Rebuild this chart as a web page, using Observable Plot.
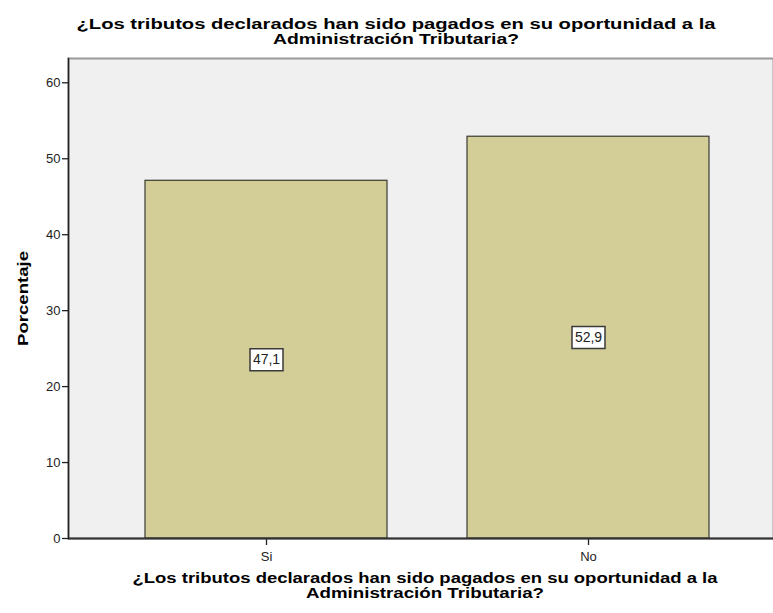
<!DOCTYPE html>
<html>
<head>
<meta charset="utf-8">
<script src="https://cdn.jsdelivr.net/npm/d3@7"></script>
<script src="https://cdn.jsdelivr.net/npm/@observablehq/plot@0.6"></script>
<style>
  html, body { margin: 0; padding: 0; background: #ffffff; }
  svg { display: block; }
</style>
</head>
<body>
<div id="chart"></div>
<script>
const categories = ["Si", "No"];
const percentages = [47.1, 52.9];
const valueLabels = ["47,1", "52,9"];
const yTicks = [0, 10, 20, 30, 40, 50, 60];
const titleLines = ["¿Los tributos declarados han sido pagados en su oportunidad a la", "Administración Tributaria?"];
const xLabelLines = ["¿Los tributos declarados han sido pagados en su oportunidad a la", "Administración Tributaria?"];
const yLabel = "Porcentaje";

const data = categories.map((c, i) => ({cat: c, pct: percentages[i], label: valueLabels[i]}));

const boxSymbol = {
  draw(context) {
    context.moveTo(-16.5, -11);
    context.lineTo(16.5, -11);
    context.lineTo(16.5, 11);
    context.lineTo(-16.5, 11);
    context.closePath();
  }
};

const font = "'Liberation Sans', Arial, sans-serif";

const chart = Plot.plot({
  width: 773,
  height: 613,
  marginTop: 58,
  marginBottom: 75,
  marginLeft: 68,
  marginRight: 0,
  style: {fontFamily: font, background: "#ffffff"},
  x: {type: "band", domain: categories, paddingInner: 0.25, paddingOuter: 0, insetLeft: 76, insetRight: 64.5},
  y: {domain: [0, 63.2]},
  marks: [
    Plot.frame({fill: "#f0f0f0", stroke: "#9a9a9a", strokeWidth: 2}),
    Plot.barY(data, {x: "cat", y: "pct", fill: "#d3ce97", stroke: "#3a3a32", strokeWidth: 1.2}),
    Plot.axisY({ticks: yTicks, tickSize: 6, tickPadding: 2, label: null, fontSize: 13, color: "#222", stroke: "#222", strokeWidth: 1.3}),
    Plot.axisX({tickSize: 7, tickPadding: 6, label: null, fontSize: 13, color: "#222", stroke: "#222", strokeWidth: 1.3}),
    Plot.ruleY([0], {stroke: "#333", strokeWidth: 2}),
    Plot.frame({anchor: "left", stroke: "#222", strokeWidth: 1.5}),
    Plot.dot(data, {x: "cat", y: d => d.pct / 2, symbol: boxSymbol, fill: "#ffffff", stroke: "#3a3a3a", strokeWidth: 1.5}),
    Plot.text(data, {x: "cat", y: d => d.pct / 2, text: "label", fontSize: 14, fill: "#222"}),
    Plot.text([titleLines[0]], {frameAnchor: "top", dx: -25, dy: -39, fontSize: 14, fontWeight: "bold", fill: "#000"}),
    Plot.text([titleLines[1]], {frameAnchor: "top", dx: -25, dy: -24, fontSize: 14, fontWeight: "bold", fill: "#000"}),
    Plot.text([xLabelLines[0]], {frameAnchor: "bottom", dx: 4, dy: 44, fontSize: 14, fontWeight: "bold", fill: "#000"}),
    Plot.text([xLabelLines[1]], {frameAnchor: "bottom", dx: 4, dy: 59, fontSize: 14, fontWeight: "bold", fill: "#000"}),
    Plot.text([yLabel], {frameAnchor: "left", textAnchor: "middle", dx: -45, rotate: -90, fontSize: 14, fontWeight: "bold", fill: "#000"})
  ]
});

document.getElementById("chart").appendChild(chart);

// stretch the wide SPSS-style labels to their measured lengths
const texts = Array.from(chart.querySelectorAll("text"));
const line1Nodes = texts.filter(t => t.textContent === titleLines[0]);
const line2Nodes = texts.filter(t => t.textContent === titleLines[1]);
if (line1Nodes[0]) line1Nodes[0].setAttribute("textLength", 639);
if (line1Nodes[1]) line1Nodes[1].setAttribute("textLength", 585);
if (line2Nodes[0]) line2Nodes[0].setAttribute("textLength", 246);
if (line2Nodes[1]) line2Nodes[1].setAttribute("textLength", 238);
texts.filter(t => t.textContent === yLabel).forEach(t => t.setAttribute("textLength", 95));
texts.filter(t => t.hasAttribute("textLength")).forEach(t => t.setAttribute("lengthAdjust", "spacingAndGlyphs"));
</script>
</body>
</html>
